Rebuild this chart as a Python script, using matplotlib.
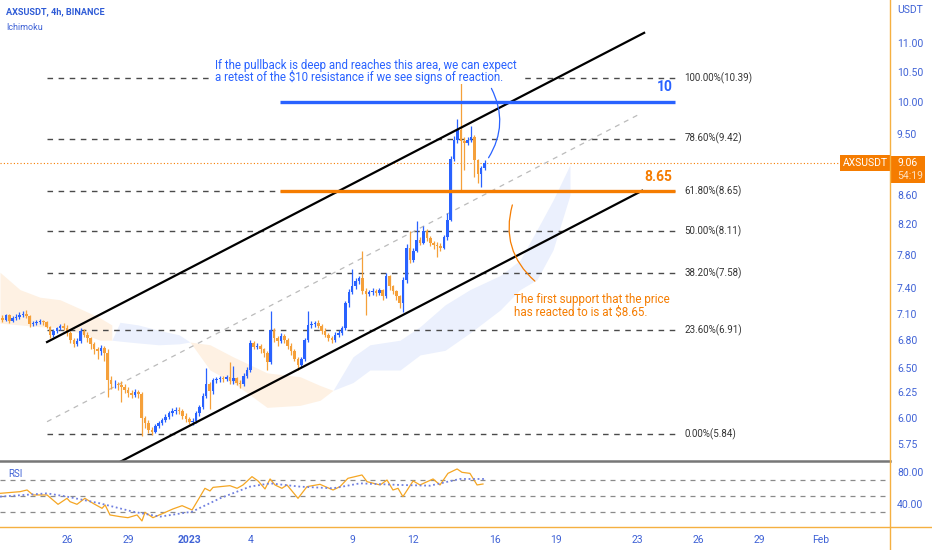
import numpy as np
import pandas as pd
import matplotlib
matplotlib.use("Agg")
import matplotlib.pyplot as plt
from matplotlib.patches import Rectangle, FancyArrowPatch
from matplotlib.lines import Line2D
from matplotlib.ticker import FormatStrFormatter, NullLocator

plt.rcParams['font.family'] = ['Roboto', 'DejaVu Sans']

# ---- data: AXSUSDT 4h candles, first bar 2022-12-22 20:00
first_bar = '2022-12-22 20:00'
first_open = 7.05
closes = [7.03,
          7.08, 7.02, 7.05, 7.06, 7.08, 7.10,
          7.07, 6.98, 6.99, 7.00, 7.01, 7.00,
          6.95, 6.86, 6.90, 6.93, 6.96, 6.94,
          6.88, 6.80, 6.76, 6.79, 6.90, 6.86,
          6.82, 6.76, 6.70, 6.68, 6.72, 6.66,
          6.38, 6.33, 6.34, 6.32, 6.30, 6.27,
          6.24, 6.22, 6.25, 6.23, 6.00, 5.95,
          5.88, 5.86, 5.92, 5.95, 5.98, 6.01,
          6.04, 6.06, 6.07, 6.06, 6.02, 5.99,
          5.96, 5.97, 6.04, 6.10, 6.21, 6.33,
          6.26, 6.38, 6.39, 6.40, 6.39, 6.41,
          6.37, 6.40, 6.35, 6.33, 6.42, 6.48,
          6.77, 6.73, 6.74, 6.70, 6.66, 6.56,
          6.91, 6.82, 6.79, 6.85, 6.80, 6.74,
          6.68, 6.60, 6.53, 6.60, 6.80, 6.97,
          6.98, 6.99, 6.96, 6.90, 6.86, 6.82,
          6.80, 6.86, 6.88, 6.93, 7.22, 7.35,
          7.42, 7.48, 7.52, 7.36, 7.33, 7.35,
          7.36, 7.34, 7.37, 7.30, 7.54, 7.42,
          7.36, 7.30, 7.22, 7.50, 7.90, 7.74,
          7.86, 8.00, 7.96, 8.12, 8.02, 7.96,
          7.93, 7.92, 7.90, 8.03, 8.26, 9.12,
          9.40, 9.56, 9.38, 9.36, 9.40, 9.45,
          9.10, 8.90, 8.98, 9.06]
highs = [7.08,
         7.10, 7.09, 7.07, 7.09, 7.12, 7.13,
         7.14, 7.08, 7.02, 7.03, 7.04, 7.03,
         7.02, 6.96, 6.92, 6.95, 6.98, 6.99,
         6.97, 6.90, 6.82, 6.82, 6.93, 6.92,
         6.89, 6.84, 6.78, 6.73, 6.75, 6.74,
         6.70, 6.42, 6.38, 6.36, 6.37, 6.33,
         6.30, 6.27, 6.28, 6.27, 6.25, 6.02,
         5.98, 5.91, 5.94, 5.97, 6.00, 6.03,
         6.06, 6.09, 6.10, 6.10, 6.08, 6.04,
         6.01, 6.00, 6.06, 6.12, 6.24, 6.50,
         6.36, 6.40, 6.41, 6.42, 6.42, 6.43,
         6.56, 6.52, 6.41, 6.38, 6.45, 6.51,
         6.80, 6.79, 6.77, 6.76, 6.72, 6.68,
         7.13, 6.93, 6.85, 6.88, 6.87, 6.82,
         6.77, 6.70, 6.62, 6.62, 6.82, 7.13,
         7.01, 7.02, 7.03, 6.98, 6.93, 6.88,
         6.85, 6.89, 6.91, 6.96, 7.25, 7.39,
         7.63, 7.52, 7.55, 7.86, 7.40, 7.38,
         7.40, 7.39, 7.40, 7.39, 7.58, 7.56,
         7.44, 7.38, 7.32, 7.53, 7.94, 8.12,
         7.90, 8.25, 8.04, 8.18, 8.14, 8.05,
         7.99, 7.97, 7.96, 8.06, 8.36, 9.16,
         9.46, 9.72, 10.39, 9.44, 9.44, 9.62,
         9.48, 9.12, 9.01, 9.10]
lows = [7.00,
        7.01, 6.99, 7.00, 7.03, 7.04, 7.06,
        7.05, 6.95, 6.96, 6.97, 6.98, 6.97,
        6.93, 6.82, 6.84, 6.88, 6.91, 6.91,
        6.85, 6.77, 6.73, 6.74, 6.77, 6.83,
        6.78, 6.70, 6.65, 6.60, 6.64, 6.58,
        6.20, 6.28, 6.29, 6.27, 6.15, 6.24,
        6.20, 6.19, 6.20, 6.19, 5.82, 5.90,
        5.85, 5.83, 5.85, 5.90, 5.93, 5.96,
        5.99, 6.02, 6.03, 6.03, 5.99, 5.96,
        5.94, 5.93, 5.95, 6.02, 6.08, 6.19,
        6.08, 6.23, 6.35, 6.36, 6.36, 6.37,
        6.34, 6.34, 6.32, 6.29, 6.31, 6.40,
        6.46, 6.70, 6.70, 6.66, 6.62, 6.48,
        6.54, 6.78, 6.74, 6.77, 6.77, 6.70,
        6.64, 6.57, 6.48, 6.51, 6.58, 6.78,
        6.94, 6.95, 6.93, 6.87, 6.83, 6.79,
        6.77, 6.78, 6.84, 6.86, 6.91, 7.18,
        7.33, 7.39, 7.45, 7.33, 7.08, 7.30,
        7.31, 7.30, 7.31, 7.26, 7.28, 7.38,
        7.33, 7.26, 7.16, 7.12, 7.46, 7.70,
        7.72, 7.84, 7.93, 7.94, 7.98, 7.92,
        7.88, 7.78, 7.85, 7.88, 8.00, 8.24,
        9.08, 9.36, 8.65, 8.96, 9.33, 9.37,
        8.86, 8.77, 8.71, 8.95]

# Ichimoku cloud edges (day offset from 2022-12-26, top, bottom)
cloud_bear1_days = [-3.29, -2.31, -1.33, -0.34, 0.79, 1.62, 2.2]
cloud_bear1_top = [7.59, 7.38, 7.29, 7.26, 7.14, 7.05, 6.97]
cloud_bear1_bot = [6.99, 6.97, 6.95, 6.94, 6.87, 6.80, 6.80]
cloud_bull1_days = [2.2, 2.6, 3.5, 4.5, 5.5, 6.04]
cloud_bull1_top = [6.80, 7.00, 6.97, 6.91, 6.86, 6.78]
cloud_bull1_bot = [6.80, 6.79, 6.77, 6.75, 6.76, 6.78]
cloud_bear2_days = [6.04, 7.02, 8.15, 9.82, 11.44, 12.42, 13.06]
cloud_bear2_top = [6.78, 6.75, 6.62, 6.45, 6.41, 6.32, 6.27]
cloud_bear2_bot = [6.78, 6.48, 6.35, 6.10, 6.12, 6.17, 6.27]
cloud_bull2_days = [13.06, 14.04, 14.87, 16.35, 17.33, 18.56, 19.78, 21.26, 22.24, 23.07, 23.86, 24.69]
cloud_bull2_top = [6.27, 6.62, 6.75, 6.80, 6.95, 7.20, 7.38, 7.55, 7.74, 8.13, 8.53, 9.03]
cloud_bull2_bot = [6.27, 6.35, 6.48, 6.48, 6.64, 6.69, 6.88, 7.14, 7.38, 7.50, 7.87, 8.60]

# RSI and its moving average
rsi_days = [-3.29, -2.31, -1.96, -1.67, -0.98, -0.44, 0.0, 0.15, 0.49, 0.88, 1.28, 1.72, 1.87,
            2.11, 2.60, 2.99, 3.44, 3.68, 3.83, 4.22, 4.71, 5.20, 5.65, 6.14, 6.53, 6.77,
            7.02, 7.17, 8.00, 8.35, 8.64, 9.08, 9.38, 9.72, 9.97, 10.21, 10.55, 10.80,
            11.34, 11.78, 12.42, 13.06, 13.40, 13.79, 14.48, 14.73, 15.37, 15.71, 16.00,
            16.25, 16.49, 16.99, 17.33, 17.97, 18.31, 18.70, 19.15, 19.39, 19.78, 20.13, 20.42]
rsi_vals = [53.3, 55.4, 57.5, 51.3, 51.3, 39.6, 47.1, 42.9, 39.6, 47.1, 40.8, 34.6, 38.8,
            26.3, 24.2, 22.9, 26.3, 18.8, 29.6, 22.9, 28.3, 33.8, 37.9, 32.5, 49.2, 59.6,
            56.3, 60.8, 62.9, 59.6, 63.8, 74.2, 68.8, 58.8, 71.3, 63.8, 59.6, 63.8,
            47.1, 61.7, 64.6, 57.5, 61.7, 72.1, 76.3, 67.9, 63.8, 70.0, 57.5,
            59.6, 49.2, 68.8, 63.8, 71.3, 63.8, 78.3, 83.8, 79.6, 78.3, 63.8, 65.0]
rsi_ma_days = [-3.29, -0.98, 0.0, 1.62, 3.24, 4.57, 6.14, 7.51, 8.98, 9.97, 11.44, 13.06,
               14.38, 16.35, 17.82, 19.29, 20.52]
rsi_ma_vals = [49.2, 53.3, 49.2, 40.8, 30.4, 24.2, 30.4, 47.1, 61.7, 65.8, 61.7, 59.6,
               65.8, 63.8, 62.9, 71.3, 71.3]

# fib retracement, support/resistance, channel (day, price)
fib_pcts = [0.0, 23.6, 38.2, 50.0, 61.8, 78.6, 100.0]
fib_vals = [5.84, 6.91, 7.58, 8.11, 8.65, 9.42, 10.39]
resistance = 10.0
support = 8.65
last_price = 9.06
channel_upper = [(-0.98, 6.78), (28.33, 11.18)]
channel_lower = [(2.55, 5.58), (28.23, 8.66)]
channel_mid = [(-0.98, 5.96), (28.03, 9.79)]

date_ticks = [0, 3, 6, 9, 14, 17, 21, 24, 28, 31, 34, 37]
date_labels = ['26', '29', '2023', '4', '9', '12', '16', '19', '23', '26', '29', 'Feb']
price_ticks = [5.75, 6.0, 6.25, 6.5, 6.8, 7.1, 7.4, 7.8, 8.2, 8.6, 9.5, 10.0, 10.5, 11.0]

BLUE = '#2962ff'
ORANGE = '#f57c00'
CANDLE_UP = '#2962ff'
CANDLE_DN = '#f5a03a'
AXIS_TXT = '#3f62d6'
AXIS_LINE = '#f5b041'

W, H = 932, 550
def fx(px):
    return px / W
def fy(py):
    return 1 - py / H

fig = plt.figure(figsize=(9.32, 5.5), dpi=100)
ax = fig.add_axes([0, fy(461), fx(890), 461 / H])
rx = fig.add_axes([0, fy(527), fx(890), 65 / H], sharex=ax)

# candles
base = pd.Timestamp('2022-12-26')
times = pd.date_range(first_bar, periods=len(closes), freq='4h')
days = ((times - base) / pd.Timedelta(days=1)).to_numpy()
c = np.array(closes)
o = np.array([first_open] + closes[:-1])  # 24/7 market: open = previous close
hi = np.array(highs)
lo = np.array(lows)
up = c >= o
cols = np.where(up, CANDLE_UP, CANDLE_DN)
body_lo = np.minimum(o, c)
body_h = np.maximum(np.abs(c - o), 0.006)

# cloud
bear_col, bull_col = '#fef1e3', '#ebf0fd'
ax.fill_between(cloud_bear1_days, cloud_bear1_bot, cloud_bear1_top, color=bear_col, lw=0, zorder=0)
ax.fill_between(cloud_bull1_days, cloud_bull1_bot, cloud_bull1_top, color=bull_col, lw=0, zorder=0)
ax.fill_between(cloud_bear2_days, cloud_bear2_bot, cloud_bear2_top, color=bear_col, lw=0, zorder=0)
ax.fill_between(cloud_bull2_days, cloud_bull2_bot, cloud_bull2_top, color=bull_col, lw=0, zorder=0)

ax.vlines(days, lo, hi, colors=cols, linewidth=0.9, zorder=3)
ax.bar(days, body_h, width=0.125, bottom=body_lo, color=cols, linewidth=0, zorder=3)

# fib levels
fib_x0, fib_x1 = -0.98, 29.85
ax.hlines(fib_vals, fib_x0, fib_x1, colors='#4a4a4a', linestyles=(0, (4, 4)), linewidth=1, zorder=2)
for p, v in zip(fib_pcts, fib_vals):
    ax.text(30.3, v, f"{p:.2f}%({v:.2f})", fontsize=7, color='#333333', va='center', ha='left')

# channel
for (x0, y0), (x1, y1) in [channel_upper, channel_lower]:
    ax.plot([x0, x1], [y0, y1], color='black', lw=1.6, zorder=4)
ax.plot([channel_mid[0][0], channel_mid[1][0]], [channel_mid[0][1], channel_mid[1][1]],
        color='#bbbbbb', lw=0.9, ls=(0, (4, 4)), zorder=2)

# resistance / support
ax.hlines([resistance], 10.46, 29.85, colors=BLUE, linewidth=2.4, zorder=5)
ax.hlines([support], 10.46, 29.85, colors=ORANGE, linewidth=2.4, zorder=5)
ax.text(29.72, resistance * 1.012, '10', color=BLUE, fontsize=10, weight='bold', ha='right', va='bottom')
ax.text(29.72, support * 1.012, '8.65', color=ORANGE, fontsize=10, weight='bold', ha='right', va='bottom')

# last price line
ax.axhline(last_price, color=ORANGE, ls=(0, (1, 2)), lw=0.8, zorder=1)
ax.text(0.998, last_price, 'AXSUSDT', transform=ax.get_yaxis_transform(), ha='right', va='center',
        color='white', fontsize=7.5, bbox=dict(boxstyle='square,pad=0.3', fc=ORANGE, ec='none'))

# notes and arcs
ax.add_patch(FancyArrowPatch((20.77, 10.26), (20.62, 9.10), connectionstyle='arc3,rad=-0.3',
                             arrowstyle='-', color=BLUE, lw=0.9, zorder=6))
ax.add_patch(FancyArrowPatch((21.9, 8.50), (23.07, 7.46), connectionstyle='arc3,rad=0.33',
                             arrowstyle='-', color=ORANGE, lw=0.9, zorder=6))
# note background hides the fib line behind the text
fig.add_artist(Rectangle((fx(212), fy(84)), 310 / W, 27 / H, transform=fig.transFigure,
                         fc='white', ec='none', zorder=1))
fig.text(fx(215), fy(65), 'If the pullback is deep and reaches this area, we can expect',
         color=BLUE, fontsize=8.3, va='center', zorder=3)
fig.text(fx(215), fy(77), 'a retest of the $10 resistance if we see signs of reaction.',
         color=BLUE, fontsize=8.3, va='center', zorder=3)
fig.text(fx(514), fy(299), 'The first support that the price', color=ORANGE, fontsize=8.4, va='center')
fig.text(fx(514), fy(312), 'has reacted to is at $8.65.', color=ORANGE, fontsize=8.4, va='center')

# main axes styling
ax.set_yscale('log')
ax.set_ylim(5.593, 11.79)
ax.set_xlim(-3.289, 40.40)
ax.yaxis.tick_right()
ax.set_yticks(price_ticks)
ax.yaxis.set_major_formatter(FormatStrFormatter('%.2f'))
ax.yaxis.set_minor_locator(NullLocator())
ax.tick_params(axis='y', length=0, pad=5, labelsize=7.5, labelcolor=AXIS_TXT)
ax.tick_params(axis='x', bottom=False, labelbottom=False)
for s in ax.spines.values():
    s.set_visible(False)

# RSI panel
for lvl in [70, 50, 30]:
    rx.axhline(lvl, color='#8a8a8a', ls=(0, (4, 4)), lw=0.9)
rx.plot(rsi_days, rsi_vals, color='#f5a623', lw=0.9)
rx.plot(rsi_ma_days, rsi_ma_vals, color='#7080e0', lw=1.3, ls=(0, (1, 1.5)))
rx.set_ylim(11.25, 92.5)
rx.yaxis.tick_right()
rx.set_yticks([40, 80])
rx.yaxis.set_major_formatter(FormatStrFormatter('%.2f'))
rx.tick_params(axis='y', length=0, pad=5, labelsize=7.5, labelcolor=AXIS_TXT)
rx.set_xticks(date_ticks)
rx.set_xticklabels(date_labels)
rx.tick_params(axis='x', length=0, pad=6, labelsize=7.5, labelcolor=AXIS_TXT)
rx.get_xticklabels()[2].set_fontweight('bold')
for s in rx.spines.values():
    s.set_visible(False)

# frame lines
fig.add_artist(Line2D([0, fx(890)], [fy(461), fy(461)], color='#777777', lw=1.8))
fig.add_artist(Line2D([0, 1], [fy(527), fy(527)], color=AXIS_LINE, lw=1))
fig.add_artist(Line2D([fx(890), fx(890)], [0, 1], color=AXIS_LINE, lw=1))

# header and axis labels
fig.text(fx(6), fy(12), 'AXSUSDT, 4h, BINANCE', color='#2e5bd6', fontsize=6.6, weight='bold', va='center')
fig.text(fx(6), fy(27), 'Ichimoku', color='#3f62d6', fontsize=6.5, va='center')
fig.text(fx(897), fy(10), 'USDT', color=AXIS_TXT, fontsize=7.5, va='center')
fig.text(fx(8), fy(474), 'RSI', color=AXIS_TXT, fontsize=7, va='center')

# last price tag on axis
fig.add_artist(Rectangle((fx(891), fy(183)), 34 / W, 27 / H, transform=fig.transFigure,
                         fc=ORANGE, ec='none'))
fig.text(fx(897), fy(163), f'{last_price:.2f}', color='white', fontsize=7.5, va='center')
fig.text(fx(897), fy(176), '54:19', color='#fde0c0', fontsize=7.5, va='center')

fig.savefig('out.png', dpi=100, facecolor='white')
